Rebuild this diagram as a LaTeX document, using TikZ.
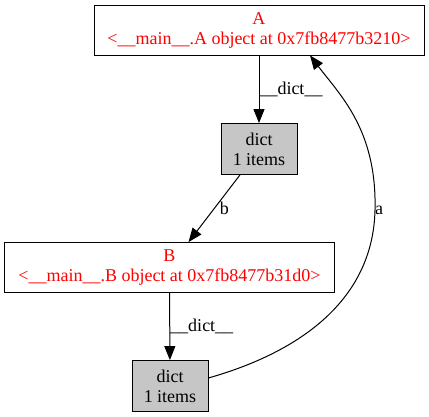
\documentclass[tikz,border=0pt]{standalone}
\usepackage{fontspec}
\setmainfont{Liberation Serif}
\usetikzlibrary{arrows.meta}

\tikzset{
  objbox/.style={draw, thick, text=red, align=center, minimum width=330pt,
    minimum height=50pt, inner sep=0pt},
  dictbox/.style={draw, thick, fill=gray!45, align=center, minimum width=76pt,
    minimum height=51pt, inner sep=0pt},
  ref/.style={-{Triangle[length=14pt,width=11pt]}, line width=1pt},
  reflabel/.style={inner sep=0pt, font=\fontsize{18}{18}\selectfont}
}

\begin{document}
\begin{tikzpicture}[x=1pt,y=1pt,font=\fontsize{18}{20}\selectfont]

\useasboundingbox (0,0) rectangle (429,-417);

\node[objbox] (A) at (259,-30) {A\\<\_\_main\_\_.A object at 0x7fb8477b3210>};
\node[dictbox] (d1) at (259,-149) {dict\\1 items};
\node[objbox] (B) at (169.5,-267.5) {B\\<\_\_main\_\_.B object at 0x7fb8477b31d0>};
\node[dictbox] (d2) at (170,-386) {dict\\1 items};

\draw[ref] (A) -- node[reflabel, right] {\_\_dict\_\_} (d1);
\draw[ref] ([xshift=-19pt]d1.south) -- node[reflabel, right, xshift=5pt] {b} ([xshift=19pt]B.north);
\draw[ref] (B) -- node[reflabel, right] {\_\_dict\_\_} (d2);

% back reference to A
\coordinate (bend) at (375,-210);
\draw[ref] ([yshift=8pt]d2.east) .. controls (300,-352) and (373,-300) .. (bend)
  .. controls (377,-130) and (340,-95) .. ([xshift=51pt]A.south);
\node[reflabel, right] (alab) at (bend) {a};

\end{tikzpicture}
\end{document}
